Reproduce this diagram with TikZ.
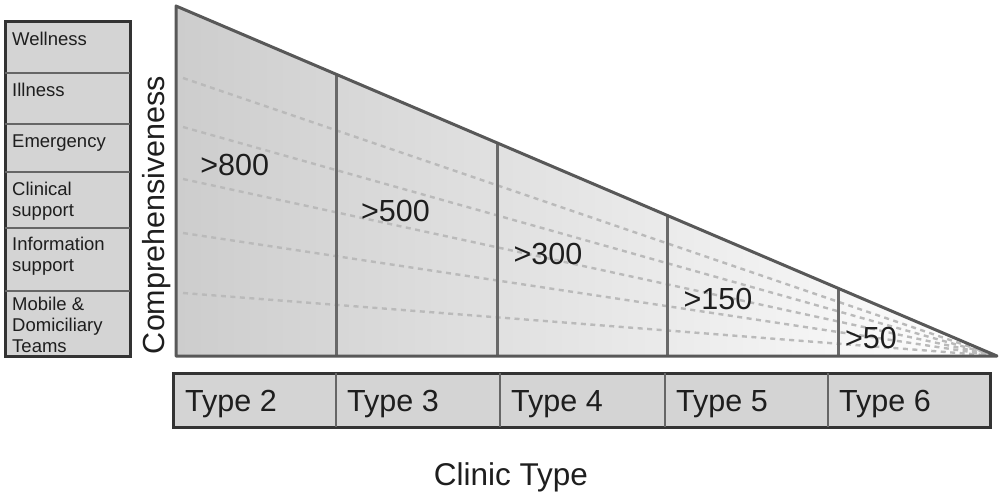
\documentclass[tikz,border=0pt]{standalone}
\usepackage{fontspec}
\setmainfont{Liberation Sans}
\definecolor{edgegray}{HTML}{585858}
\definecolor{boxfill}{HTML}{D4D4D4}
\definecolor{boxedge}{HTML}{333333}
\definecolor{dashgray}{HTML}{BABABA}
\definecolor{txt}{HTML}{1E1E1E}
\definecolor{shadeleft}{HTML}{CDCDCD}
\tikzset{
  smalllabel/.style={anchor=north west, inner sep=0pt, align=left, text=txt,
    font=\fontsize{18.5}{21}\selectfont},
  biglabel/.style={inner sep=0pt, text=txt, font=\fontsize{30.5}{36}\selectfont},
  typelabel/.style={anchor=base west, inner sep=0pt, text=txt, font=\fontsize{30.5}{36}\selectfont},
  guideline/.style={draw=dashgray, line width=2.4pt, dash pattern=on 5pt off 4.5pt},
  edgeline/.style={draw=edgegray, line width=3pt, line join=round},
  divline/.style={draw=edgegray!90, line width=3pt},
  panelbox/.style={fill=boxfill, draw=boxedge, line width=3pt},
  paneldiv/.style={draw=gray!80!black, line width=2pt}
}
\begin{document}
\begin{tikzpicture}[x=1pt,y=-1pt]
\useasboundingbox (0,0) rectangle (1004,495);
% left panel
\draw[panelbox] (5,22) rectangle (130,356);
\foreach \yy in {73,124,172,228,291}{\draw[paneldiv] (5,\yy) -- (130,\yy);}
\node[smalllabel] (wel) at (12,32.2) {Wellness};
\node[smalllabel] (ill) at (12,83.2) {Illness};
\node[smalllabel] (eme) at (12,134.2) {Emergency};
\node[smalllabel] (cli) at (12,181.5) {Clinical\\support};
\node[smalllabel] (inf) at (12,237.2) {Information\\support};
\node[smalllabel] (mob) at (12,296.5) {Mobile \&\\Domiciliary\\Teams};
% axis label
\node[biglabel, rotate=90] (comp) at (157,215) {Comprehensiveness};
% triangle
\coordinate (tl) at (176,6);
\coordinate (bl) at (176,356);
\coordinate (tip) at (997,356);
\fill[left color=shadeleft, right color=white] (tl) -- (tip) -- (bl) -- cycle;
\foreach \yy in {78,127,179,233,293}{\draw[guideline] (183,\yy) -- (tip);}
\foreach \xx/\tt in {336/74.2,497/142.8,667/215.3,838/288.2}{\draw[divline] (\xx,\tt) -- (\xx,356);}
\draw[edgeline] (tl) -- (tip) -- (bl) -- cycle;
\node[biglabel] (n800) at (234.7,165) {>800};
\node[biglabel] (n500) at (395.5,211.3) {>500};
\node[biglabel] (n300) at (548,254) {>300};
\node[biglabel] (n150) at (718,299) {>150};
\node[biglabel] (n50) at (871,338) {>50};
% bottom bar
\draw[panelbox] (173,373) rectangle (990,427);
\foreach \xx in {336,500,665,828}{\draw[paneldiv] (\xx,373) -- (\xx,427);}
\node[typelabel] (t2) at (185,411.7) {Type 2};
\node[typelabel] (t3) at (347,411.7) {Type 3};
\node[typelabel] (t4) at (511,411.7) {Type 4};
\node[typelabel] (t5) at (676,411.7) {Type 5};
\node[typelabel] (t6) at (839,411.7) {Type 6};
\node[anchor=base, inner sep=0pt, text=txt, font=\fontsize{31.5}{36}\selectfont] (ct) at (511,485) {Clinic Type};
\end{tikzpicture}
\end{document}
